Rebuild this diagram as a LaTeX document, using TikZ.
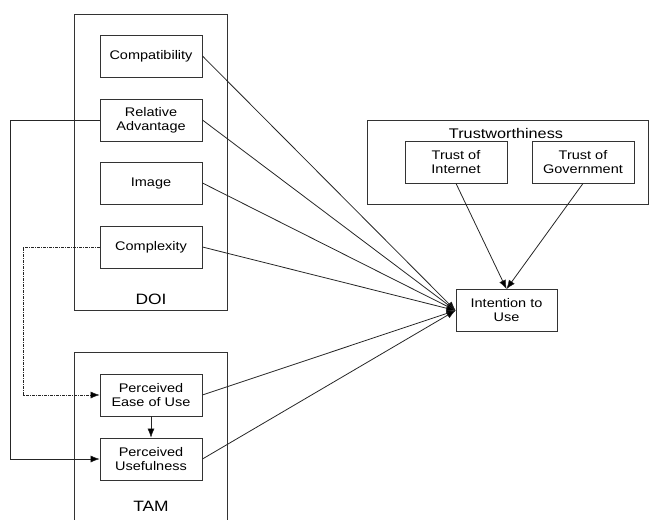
\documentclass[tikz,border=0pt]{standalone}
\usepackage{fontspec}
\setmainfont{Liberation Sans}[FakeStretch=1.16]
\usetikzlibrary{arrows.meta}
\begin{document}
\begin{tikzpicture}[x=1pt,y=-1pt,
  box/.style={draw=black!80, line width=0.9pt, minimum width=102pt, minimum height=42pt, inner sep=0pt, align=center, font=\fontsize{12.5}{14}\selectfont},
  grp/.style={draw=black!80, line width=0.9pt},
  lbl/.style={font=\fontsize{15}{17}\selectfont, inner sep=0pt},
  link/.style={draw=black!85, line width=0.8pt},
  arr/.style={link, -{Latex[length=9pt,width=7pt,fill=black,line width=0.4pt]}}]
\useasboundingbox (0,0) rectangle (649,520);
% group boxes
\draw[grp] (74,14) rectangle (227,310);
\draw[grp] (74,352) rectangle (227,540);
\draw[grp] (367,120) rectangle (648,204);
\node[lbl] (doi) at (151,299) {DOI};
\node[lbl] (tam) at (151,506) {TAM};
\node[lbl, font=\fontsize{14}{16}\selectfont] (tw) at (506,133) {Trustworthiness};
% nodes
\node[box] (comp) at (151,56) {Compatibility};
\node[box] (ra) at (151,120) {Relative\\Advantage};
\node[box] (img) at (151,183) {Image};
\node[box] (cx) at (151,247) {Complexity};
\node[box] (peou) at (151,395) {Perceived\\Ease of Use};
\node[box] (pu) at (151,459) {Perceived\\Usefulness};
\node[box] (ti) at (456,162) {Trust of\\Internet};
\node[box] (tg) at (583,162) {Trust of\\Government};
\node[box, minimum width=101pt] (iu) at (506.5,310.5) {Intention to\\Use};
\coordinate (ccx) at (23,247);
\coordinate (cpeou) at (23,395);
\coordinate (cra) at (10,120);
\coordinate (cpu) at (10,459);
% connectors
\draw[arr] (comp.east) -- (iu.west);
\draw[arr] (ra.east) -- (iu.west);
\draw[arr] (img.east) -- (iu.west);
\draw[arr] (cx.east) -- (iu.west);
\draw[arr] (peou.east) -- (iu.west);
\draw[arr] (pu.east) -- (iu.west);
\draw[arr] (ti.south) -- (iu.north);
\draw[arr] (tg.south) -- (iu.north);
\draw[arr] (peou.south) -- (pu.north);
\draw[arr] (ra.west) -- (cra) -- (cpu) -- (pu.west);
\draw[arr, dash pattern=on 3pt off 1pt on 1pt off 1pt, line width=1pt] (cx.west) -- (ccx) -- (cpeou) -- (peou.west);
\end{tikzpicture}
\end{document}
